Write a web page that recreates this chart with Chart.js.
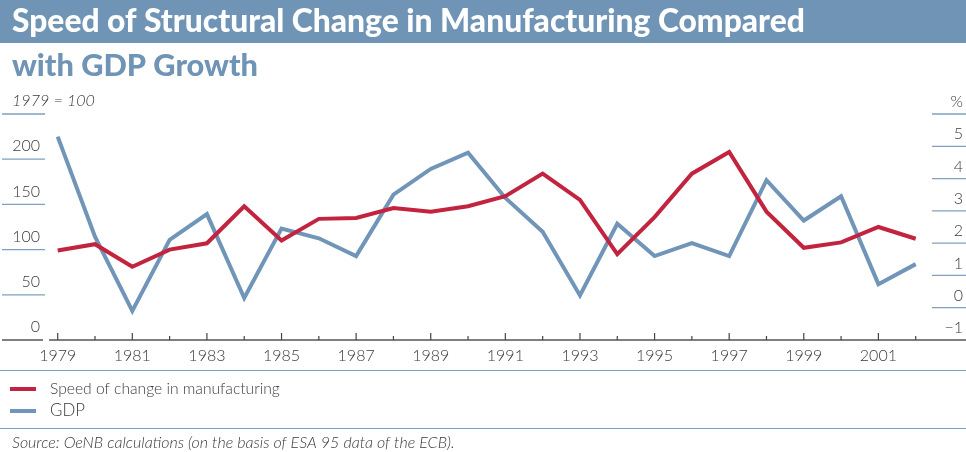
<!DOCTYPE html>
<html>
<head>
<meta charset="utf-8">
<script src="https://cdn.jsdelivr.net/npm/chart.js@4.4.1/dist/chart.umd.min.js"></script>
<style>
  body { margin: 0; background: #fff; }
  canvas { display: block; }
</style>
</head>
<body>
<canvas id="grafica" width="966" height="452"></canvas>
<script>
// datos
const years = ['1979','1980','1981','1982','1983','1984','1985','1986','1987','1988','1989','1990',
               '1991','1992','1993','1994','1995','1996','1997','1998','1999','2000','2001','2002'];
const manufacturing = [99, 106, 81, 100, 107, 148, 110, 134, 135, 146, 142, 148,
                       159, 184, 155, 95, 136, 184, 208, 142, 102, 108, 125, 112];
const gdp = [5.3, 2.2, -0.1, 2.1, 2.9, 0.3, 2.45, 2.15, 1.6, 3.5, 4.3, 4.8,
             3.4, 2.35, 0.38, 2.6, 1.6, 2.0, 1.6, 3.95, 2.7, 3.45, 0.73, 1.35];
const leftTicks = [0, 50, 100, 150, 200, 250];
const leftLabels = ['0', '50', '100', '150', '200', ''];
const rightTicks = [-1, 0, 1, 2, 3, 4, 5, 6];
const rightLabels = ['\u22121', '0', '1', '2', '3', '4', '5', '%'];

const rojo = '#c2243f';
const azul = '#7095b8';
const azulLinea = '#7fa0c2';
const gris = '#3a3a3a';
const fuente = 'Lato, "Open Sans", sans-serif';

// texto ajustado a un ancho
function textoAncho(ctx, txt, x, y, ancho, estilo, color, align) {
    ctx.font = estilo + ' 20px ' + fuente;
    let w = ctx.measureText(txt).width;
    let size = 20 * ancho / w;
    ctx.font = estilo + ' ' + size.toFixed(2) + 'px ' + fuente;
    ctx.fillStyle = color;
    ctx.textAlign = align || 'left';
    ctx.textBaseline = 'middle';
    ctx.fillText(txt, x, y);
}

const decoracion = {
    id: 'decoracion',
    beforeDraw(chart) {
        const ctx = chart.ctx;
        const W = chart.width;
        ctx.save();
        // barra del titulo
        ctx.fillStyle = '#6f94b5';
        ctx.fillRect(0, 0, W, 43);
        textoAncho(ctx, 'Speed of Structural Change in Manufacturing Compared', 12, 22, 793, '900', '#fff');
        textoAncho(ctx, 'with GDP Growth', 12, 66, 246, '900', '#6f94b5');
        textoAncho(ctx, '1979 = 100', 12, 101, 83, 'italic 300', gris);

        const yL = chart.scales.y;
        const yR = chart.scales.y1;
        const xS = chart.scales.x;
        const base = yL.getPixelForValue(0);

        // marcas eje izquierdo
        ctx.lineWidth = 1.3;
        leftTicks.forEach(function (v, i) {
            const py = yL.getPixelForValue(v);
            if (i > 0) {
                ctx.strokeStyle = azulLinea;
                ctx.beginPath(); ctx.moveTo(2, py); ctx.lineTo(45, py); ctx.stroke();
            }
            ctx.font = '300 16px ' + fuente;
            ctx.fillStyle = gris;
            ctx.textAlign = 'right';
            ctx.textBaseline = 'middle';
            ctx.fillText(leftLabels[i], 40, py - 13);
        });
        // marcas eje derecho
        rightTicks.forEach(function (v, i) {
            const py = yR.getPixelForValue(v);
            if (i > 0) {
                ctx.strokeStyle = azulLinea;
                ctx.beginPath(); ctx.moveTo(932, py); ctx.lineTo(966, py); ctx.stroke();
            }
            ctx.font = '300 16px ' + fuente;
            ctx.fillStyle = gris;
            ctx.textAlign = 'right';
            ctx.textBaseline = 'middle';
            ctx.fillText(rightLabels[i], 963, py - 12);
        });

        // linea base
        ctx.strokeStyle = '#555';
        ctx.lineWidth = 1.3;
        ctx.beginPath(); ctx.moveTo(2, base); ctx.lineTo(43, base); ctx.stroke();
        ctx.beginPath(); ctx.moveTo(49, base); ctx.lineTo(W, base); ctx.stroke();

        // marcas eje x
        years.forEach(function (yr, i) {
            const px = xS.getPixelForValue(i);
            const largo = (i % 2 === 0) ? 7 : 4;
            ctx.strokeStyle = '#444';
            ctx.lineWidth = 1.2;
            ctx.beginPath(); ctx.moveTo(px, base - largo); ctx.lineTo(px, base); ctx.stroke();
            if (i % 2 === 0) {
                ctx.font = '300 16px ' + fuente;
                ctx.fillStyle = gris;
                ctx.textAlign = 'center';
                ctx.textBaseline = 'middle';
                ctx.fillText(yr, px, 356);
            }
        });

        // separadores
        ctx.strokeStyle = azulLinea;
        ctx.lineWidth = 1;
        ctx.beginPath(); ctx.moveTo(0, 370.5); ctx.lineTo(W, 370.5); ctx.stroke();
        ctx.beginPath(); ctx.moveTo(0, 428.5); ctx.lineTo(W, 428.5); ctx.stroke();

        // leyenda
        ctx.lineWidth = 4;
        ctx.strokeStyle = rojo;
        ctx.beginPath(); ctx.moveTo(10, 389); ctx.lineTo(36, 389); ctx.stroke();
        ctx.strokeStyle = azul;
        ctx.beginPath(); ctx.moveTo(10, 411); ctx.lineTo(36, 411); ctx.stroke();
        textoAncho(ctx, 'Speed of change in manufacturing', 50, 389, 230, '300', gris);
        textoAncho(ctx, 'GDP', 50, 411, 35, '300', gris);

        // fuente
        textoAncho(ctx, 'Source: OeNB calculations (on the basis of ESA 95 data of the ECB).', 12, 443, 443, 'italic 300', gris);
        ctx.restore();
    }
};

new Chart(document.getElementById('grafica'), {
    type: 'line',
    data: {
        labels: years,
        datasets: [
            {
                label: 'Speed of change in manufacturing',
                data: manufacturing,
                yAxisID: 'y',
                borderColor: rojo,
                borderWidth: 4,
                pointRadius: 0,
                tension: 0,
                fill: false,
                clip: false
            },
            {
                label: 'GDP',
                data: gdp,
                yAxisID: 'y1',
                borderColor: azul,
                borderWidth: 4,
                pointRadius: 0,
                tension: 0,
                fill: false,
                clip: false
            }
        ]
    },
    options: {
        responsive: false,
        animation: false,
        layout: { padding: { left: 57.7, right: 50.3, top: 114, bottom: 112 } },
        plugins: { legend: { display: false }, tooltip: { enabled: false } },
        scales: {
            x: { display: false, offset: false },
            y: { display: false, min: 0, max: 250 },
            y1: { display: false, min: -1, max: 6, position: 'right' }
        }
    },
    plugins: [decoracion]
});
</script>
</body>
</html>
